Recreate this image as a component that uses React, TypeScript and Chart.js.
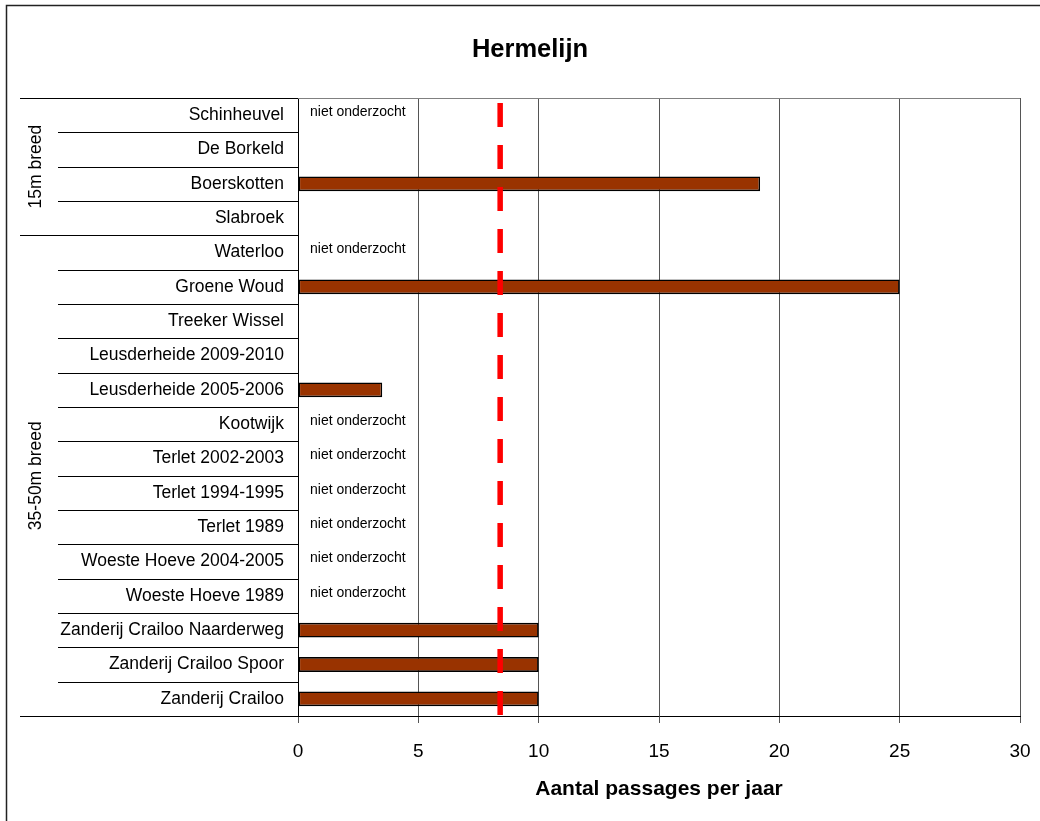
import React, { useEffect, useRef } from 'react';
import { Chart, registerables } from 'chart.js';

Chart.register(...registerables);

const chartTitle = 'Hermelijn';
const xAxisTitle = 'Aantal passages per jaar';

const categories = [
  'Schinheuvel',
  'De Borkeld',
  'Boerskotten',
  'Slabroek',
  'Waterloo',
  'Groene Woud',
  'Treeker Wissel',
  'Leusderheide 2009-2010',
  'Leusderheide 2005-2006',
  'Kootwijk',
  'Terlet 2002-2003',
  'Terlet 1994-1995',
  'Terlet 1989',
  'Woeste Hoeve 2004-2005',
  'Woeste Hoeve 1989',
  'Zanderij Crailoo Naarderweg',
  'Zanderij Crailoo Spoor',
  'Zanderij Crailoo',
];

const passages: (number | null)[] = [
  null, 0, 19.2, 0, null, 25, 0, 0, 3.5, null, null, null, null, null, null, 10, 10, 10,
];

const notStudied = [
  'Schinheuvel',
  'Waterloo',
  'Kootwijk',
  'Terlet 2002-2003',
  'Terlet 1994-1995',
  'Terlet 1989',
  'Woeste Hoeve 2004-2005',
  'Woeste Hoeve 1989',
];
const notStudiedText = 'niet onderzocht';

const groupLabels = ['15m breed', '35-50m breed'];
const groupSizes = [4, 14];

const referenceValue = 8.4;

const xMin = 0;
const xMax = 30;
const xStep = 5;

const FONT = '"Liberation Sans", Arial, Helvetica, sans-serif';

const decorPlugin = {
  id: 'decor',
  afterDraw(chart: any) {
    const ctx = chart.ctx as CanvasRenderingContext2D;
    const area = chart.chartArea;
    const xs = chart.scales.x;
    const ys = chart.scales.y;
    const n = categories.length;
    const step = (area.bottom - area.top) / n;

    ctx.save();

    // outer frame (left + top)
    ctx.strokeStyle = '#222';
    ctx.lineWidth = 1.5;
    ctx.beginPath();
    ctx.moveTo(6.5, 830);
    ctx.lineTo(6.5, 5.5);
    ctx.lineTo(1045, 5.5);
    ctx.stroke();

    // plot top border
    ctx.strokeStyle = '#808080';
    ctx.lineWidth = 1;
    ctx.beginPath();
    ctx.moveTo(area.left, Math.round(area.top) + 0.5);
    ctx.lineTo(area.right, Math.round(area.top) + 0.5);
    ctx.stroke();

    // category separators to the left of axis
    const groupBounds = new Set<number>();
    let acc = 0;
    groupBounds.add(0);
    groupSizes.forEach((g) => {
      acc += g;
      groupBounds.add(acc);
    });
    ctx.strokeStyle = '#000';
    ctx.lineWidth = 1;
    for (let i = 0; i <= n; i++) {
      const y = Math.round(ys.getPixelForValue(i) - step / 2) + 0.5;
      const x0 = groupBounds.has(i) ? 20 : 58;
      ctx.beginPath();
      ctx.moveTo(x0, y);
      ctx.lineTo(area.left, y);
      ctx.stroke();
    }

    // group labels
    ctx.fillStyle = '#000';
    ctx.font = `17.5px ${FONT}`;
    ctx.textAlign = 'center';
    ctx.textBaseline = 'middle';
    let start = 0;
    groupSizes.forEach((g, gi) => {
      const yTop = ys.getPixelForValue(start) - step / 2;
      const yBot = ys.getPixelForValue(start + g - 1) + step / 2;
      ctx.save();
      ctx.translate(36, (yTop + yBot) / 2);
      ctx.rotate(-Math.PI / 2);
      ctx.fillText(groupLabels[gi], 0, 0);
      ctx.restore();
      start += g;
    });

    // "niet onderzocht" notes
    ctx.font = `14px ${FONT}`;
    ctx.textAlign = 'left';
    ctx.textBaseline = 'middle';
    categories.forEach((c, i) => {
      if (notStudied.includes(c)) {
        ctx.fillText(notStudiedText, xs.getPixelForValue(0) + 12, ys.getPixelForValue(i) - 3);
      }
    });

    // reference dashed line
    const rx = xs.getPixelForValue(referenceValue);
    ctx.strokeStyle = '#FF0000';
    ctx.lineWidth = 5.5;
    ctx.setLineDash([24, 18]);
    ctx.lineDashOffset = -5;
    ctx.beginPath();
    ctx.moveTo(rx, area.top);
    ctx.lineTo(rx, area.bottom);
    ctx.stroke();
    ctx.setLineDash([]);

    // title
    ctx.fillStyle = '#000';
    ctx.font = `bold 25.5px ${FONT}`;
    ctx.textAlign = 'center';
    ctx.textBaseline = 'alphabetic';
    ctx.fillText(chartTitle, 530, 57);

    ctx.restore();
  },
};

export default function App() {
  const ref = useRef<HTMLCanvasElement | null>(null);

  useEffect(() => {
    if (!ref.current) return;
    const chart = new Chart(ref.current, {
      type: 'bar',
      data: {
        labels: categories,
        datasets: [
          {
            label: 'Hermelijn',
            data: passages as any,
            backgroundColor: '#993300',
            borderColor: '#000000',
            borderWidth: (c: any) => (c.raw ? 1.6 : 0),
            borderSkipped: false,
            barPercentage: 0.43,
            categoryPercentage: 1,
          },
        ],
      },
      options: {
        indexAxis: 'y',
        animation: false,
        responsive: false,
        devicePixelRatio: 1,
        layout: { padding: { top: 98, right: 20, bottom: 0, left: 0 } },
        plugins: {
          legend: { display: false },
          tooltip: { enabled: false },
          title: { display: false },
        },
        scales: {
          x: {
            type: 'linear',
            min: xMin,
            max: xMax,
            afterFit: (s: any) => {
              s.height = 105;
              s.paddingLeft = 0;
              s.paddingRight = 0;
            },
            ticks: {
              stepSize: xStep,
              color: '#000',
              padding: 17,
              font: { family: FONT, size: 19 },
            },
            grid: {
              color: '#555',
              lineWidth: 1,
              tickLength: 7,
              tickColor: '#555',
            },
            border: { display: true, color: '#000', width: 1 },
            title: {
              display: true,
              text: xAxisTitle,
              color: '#000',
              font: { family: FONT, size: 21, weight: 'bold' },
              padding: { top: 0, bottom: 19 },
            },
          },
          y: {
            type: 'category',
            afterFit: (s: any) => {
              s.width = 298;
              s.paddingTop = 0;
              s.paddingBottom = 0;
            },
            ticks: {
              color: '#000',
              padding: 14,
              font: { family: FONT, size: 17.5 },
              autoSkip: false,
            },
            grid: {
              display: true,
              drawOnChartArea: false,
              drawTicks: false,
              color: 'rgba(0,0,0,0)',
            },
            border: { display: true, color: '#000', width: 1 },
          },
        },
      },
      plugins: [decorPlugin],
    } as any);
    return () => chart.destroy();
  }, []);

  return (
    <div style={{ position: 'absolute', left: 0, top: 0, width: 1040, height: 821, background: '#fff' }}>
      <canvas ref={ref} width={1040} height={821} style={{ display: 'block', width: 1040, height: 821 }} />
    </div>
  );
}
